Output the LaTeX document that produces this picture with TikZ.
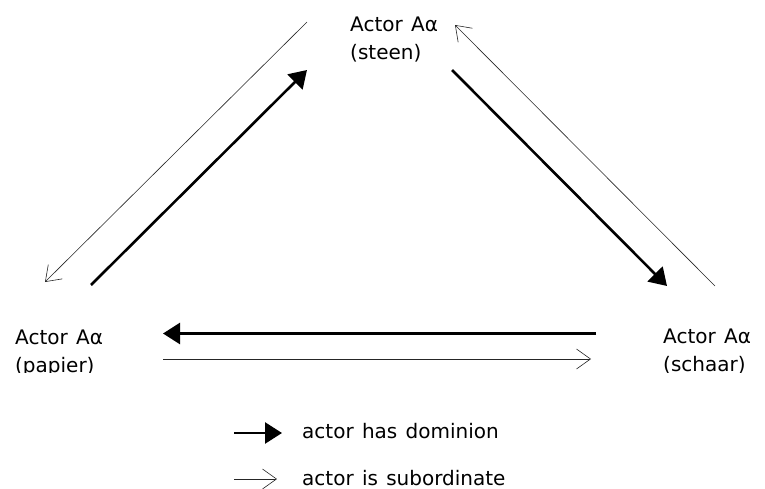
\documentclass[tikz,border=0pt]{standalone}
\usepackage{fontspec}
\setmainfont[WordSpace=1.3]{DejaVu Sans}
\usetikzlibrary{arrows.meta}
\begin{document}
\begin{tikzpicture}[x=1pt,y=-1pt,
  actorlabel/.style={inner sep=0pt, anchor=base west, font=\fontsize{20}{24}\selectfont},
  legendtext/.style={inner sep=0pt, anchor=base west, font=\fontsize{20}{24}\selectfont},
  dominant/.style={line width=2.6pt, -{Triangle[length=17pt,width=21pt]}},
  subordinate/.style={line width=0.6pt, draw=black!85,
    -{Straight Barb[length=14pt,width=20pt,line width=0.6pt]}}]
\useasboundingbox (0,0) rectangle (765,489);

% actors
\node[actorlabel] (steenA) at (350,31.5) {Actor Aα};
\node[actorlabel] (steenB) at (350,59.5) {(steen)};
\begin{scope}
  \clip (0,0) rectangle (765,372);
  \node[actorlabel] (papierA) at (15,344) {Actor Aα};
  \node[actorlabel] (papierB) at (15,372) {(papier)};
  \node[actorlabel] (schaarA) at (663,343) {Actor Aα};
  \node[actorlabel] (schaarB) at (663,371) {(schaar)};
\end{scope}

% arrow end points
\coordinate (ps-from) at (91,285);   \coordinate (ps-to) at (307,70);
\coordinate (sp-from) at (307,22);   \coordinate (sp-to) at (45,282);
\coordinate (sc-from) at (452,70);   \coordinate (sc-to) at (667,286);
\coordinate (cs-from) at (715,286);  \coordinate (cs-to) at (455,25);
\coordinate (cp-from) at (596,333.5);\coordinate (cp-to) at (163,333.5);
\coordinate (pc-from) at (163,359);  \coordinate (pc-to) at (591,359);

\draw[dominant] (ps-from) -- (ps-to);
\draw[subordinate] (sp-from) -- (sp-to);
\draw[dominant] (sc-from) -- (sc-to);
\draw[subordinate] (cs-from) -- (cs-to);
\draw[dominant] (cp-from) -- (cp-to);
\draw[subordinate] (pc-from) -- (pc-to);

% legend
\coordinate (l1-from) at (234,433); \coordinate (l1-to) at (282,433);
\coordinate (l2-from) at (234,479); \coordinate (l2-to) at (277,479);
\draw[dominant] (l1-from) -- (l1-to);
\draw[subordinate] (l2-from) -- (l2-to);
\node[legendtext] (dominion) at (302,438) {actor has dominion};
\node[legendtext] (subord) at (302,485) {actor is subordinate};
\end{tikzpicture}
\end{document}
